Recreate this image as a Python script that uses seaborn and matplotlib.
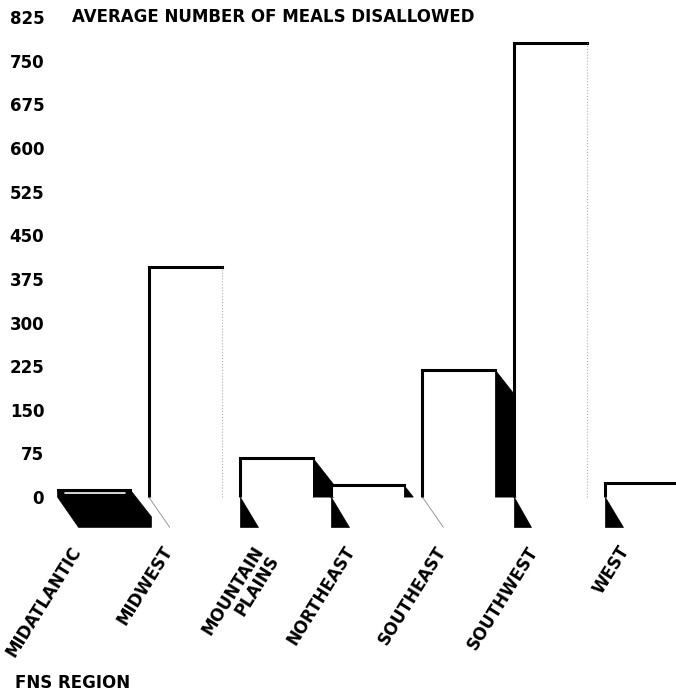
import matplotlib
matplotlib.use("Agg")
import matplotlib.pyplot as plt
import matplotlib.transforms as mtrans
from matplotlib.patches import Polygon
import seaborn as sns
import pandas as pd

# Average number of meals disallowed, by FNS region
regions = ["MIDATLANTIC", "MIDWEST", "MOUNTAIN\nPLAINS", "NORTHEAST",
           "SOUTHEAST", "SOUTHWEST", "WEST"]
meals_disallowed = [12, 395, 67, 20, 218, 781, 24]
y_ticks = [0, 75, 150, 225, 300, 375, 450, 525, 600, 675, 750, 825]

# Shading of each bar's depth faces
side_shaded = [True, False, True, True, True, False, True]
floor_style = ["solid", "line", "tri", "tri", "line", "tri", "tri"]

sns.set_style("white")
plt.rcParams["font.family"] = ["DejaVu Sans"]
plt.rcParams["font.weight"] = "bold"
plt.rcParams["text.color"] = "black"
plt.rcParams["ytick.color"] = "black"
plt.rcParams["xtick.color"] = "black"

W, H = 676, 693
fig = plt.figure(figsize=(W / 100, H / 100), dpi=100)
ax = fig.add_axes([48.4 / W, (H - 532) / H, (W - 48.4) / W, (532 - 14.1) / H])

df = pd.DataFrame({"region": regions, "meals": meals_disallowed})
sns.barplot(data=df, x="region", y="meals", color="white", saturation=1,
            width=0.8, edgecolor="none", ax=ax, zorder=2)

DX = 0.23      # depth offset along x (category units)
DY = -46       # depth slope along y (data units)
FLOOR = -52    # lowest point of the floor projection

for i, p in enumerate(ax.patches):
    l = p.get_x()
    r = l + p.get_width()
    v = p.get_height()

    # side face to the right of the front face
    if side_shaded[i] and floor_style[i] != "solid":
        if v + DY >= 0:
            pts = [(r, v), (r + DX, v + DY), (r + DX, 0), (r, 0)]
        else:
            xe = r + DX * v / (-DY)
            pts = [(r, v), (xe, 0), (r, 0)]
        ax.add_patch(Polygon(pts, closed=True, facecolor="black",
                             edgecolor="black", lw=0.5, zorder=1.5))

    # floor projection below the baseline
    if floor_style[i] == "solid":
        pts = [(l, v), (r, v), (r + DX, v + DY), (r + DX, FLOOR),
               (l + DX, FLOOR), (l, 0)]
        ax.add_patch(Polygon(pts, closed=True, facecolor="black",
                             edgecolor="black", lw=0.5, zorder=3))
        ax.plot([l + 0.08, r - 0.06], [v - 5, v - 5], color="white",
                lw=1.2, zorder=4)
    elif floor_style[i] == "tri":
        pts = [(l, 0), (l, FLOOR), (l + DX * 0.85, FLOOR)]
        ax.add_patch(Polygon(pts, closed=True, facecolor="black",
                             edgecolor="black", lw=0.5, zorder=3))
    else:
        ax.plot([l, l + DX], [0, FLOOR], color="#888888", lw=0.6, zorder=3)

    # front face outline: top and left edges
    ax.plot([l, r], [v, v], color="black", lw=2.2, zorder=4,
            solid_capstyle="projecting")
    if floor_style[i] != "solid":
        ax.plot([l, l], [0, v], color="black", lw=2.2, zorder=4,
                solid_capstyle="butt")
    if not side_shaded[i]:
        ax.plot([r, r], [0, v], color="#b0b0b0", lw=0.8, ls=":", zorder=4)

ax.set_xlim(-0.5, 6.38)
ax.set_ylim(-60, 830)
ax.set_yticks(y_ticks)
ax.set_yticklabels([str(t) for t in y_ticks], fontsize=12, fontweight="bold",
                   color="black")
ax.tick_params(axis="y", length=0, pad=3)
ax.set_xticks([])
ax.set_xlabel("")
ax.set_ylabel("")
sns.despine(ax=ax, left=True, bottom=True)

# rotated region labels under the bars
base = mtrans.blended_transform_factory(ax.transData, ax.transAxes)
shift = mtrans.ScaledTranslation(-24 / 100, -11 / 100, fig.dpi_scale_trans)
for i, name in enumerate(regions):
    ax.text(i, 0, name, transform=base + shift, rotation=58,
            rotation_mode="anchor", ha="right", va="top",
            multialignment="right", fontsize=12, fontweight="bold",
            linespacing=1.0, color="black")

fig.text(72 / W, 1 - 17 / H, "AVERAGE NUMBER OF MEALS DISALLOWED",
         ha="left", va="center", fontsize=12, fontweight="bold",
         color="black")
fig.text(15 / W, 1 - 683 / H, "FNS REGION", ha="left", va="center",
         fontsize=12, fontweight="bold", color="black")

fig.savefig("out.png", dpi=100, facecolor="white")
